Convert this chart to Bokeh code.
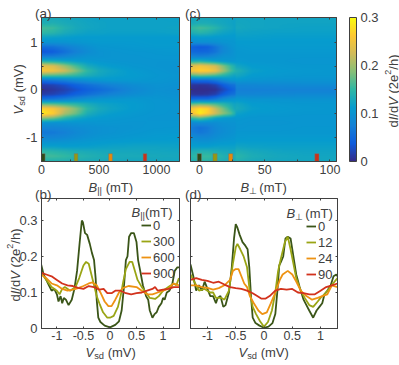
import numpy as np
from bokeh.plotting import figure
from bokeh.embed import file_html
from bokeh.resources import INLINE
from bokeh.layouts import column, row
from bokeh.models import (Label, LinearAxis, FixedTicker, LinearColorMapper, ColorBar,
                          Range1d, Legend, LegendItem)

# ---------- data ----------
vsd_rows = [1.5,1.4,1.3,1.2,1.1,1.0,.9,.8,.7,.6,.5,.4,.3,.2,.1,0,-.1,-.2,-.3,-.4,-.5,-.6,-.7,-.8,-.9,-1.0,-1.1,-1.2,-1.3,-1.4,-1.5]
b_par_cols = [0,100,200,300,400,500,600,800,1000,1200]
heat_par = [
[130,130,128,125,122,120,120,120,120,118],
[135,138,132,128,124,122,120,120,120,120],
[160,155,140,130,125,122,120,120,120,122],
[150,145,132,125,120,120,118,118,118,120],
[120,118,115,112,112,112,112,112,112,112],
[100,100,102,105,108,110,110,110,112,112],
[55,60,72,85,96,104,106,108,110,110],
[32,40,58,75,90,100,102,105,106,108],
[70,72,80,92,100,100,102,102,105,105],
[140,135,125,115,110,106,104,102,102,102],
[240,230,195,160,130,118,112,105,102,100],
[260,250,225,185,150,130,122,110,104,100],
[170,165,160,150,135,125,118,112,106,102],
[60,68,78,90,100,106,108,108,104,100],
[15,20,30,45,58,68,78,92,100,98],
[5,10,18,30,42,52,62,85,98,96],
[15,20,30,45,58,68,78,92,100,98],
[60,66,76,88,98,104,106,108,104,100],
[170,165,155,145,132,122,118,112,105,102],
[270,255,220,185,148,130,122,112,105,102],
[290,265,205,175,135,122,115,108,104,102],
[190,175,145,125,115,110,108,105,102,102],
[100,98,100,102,102,104,104,102,104,104],
[80,80,85,90,95,98,100,102,105,106],
[65,68,75,85,92,98,100,104,108,108],
[80,80,85,92,98,102,104,108,110,112],
[100,100,102,105,108,110,112,114,115,115],
[120,118,115,115,116,118,120,122,122,120],
[150,145,140,135,132,130,128,128,126,125],
[160,158,152,145,140,136,132,132,130,128],
[140,140,138,135,132,130,128,126,125,125]]
b_perp_cols = [-7,0,6,12,18,24,27,28,40,60,80,105]
heat_perp = [
[125,128,128,126,124,122,120,124,124,122,122,122],
[130,135,134,130,126,122,120,126,124,122,122,122],
[150,160,155,145,132,125,120,128,124,122,120,120],
[135,145,140,130,122,118,116,122,120,118,118,118],
[108,112,112,110,110,110,110,116,116,114,114,114],
[92,95,95,98,102,105,106,112,112,112,112,112],
[45,38,42,62,85,100,104,108,110,110,110,110],
[52,48,50,62,85,95,102,106,108,108,108,108],
[78,75,78,88,98,100,102,106,106,106,106,106],
[135,140,130,118,110,106,106,110,106,106,104,104],
[235,250,240,225,185,150,135,125,112,108,106,106],
[255,270,265,245,200,160,145,140,118,110,108,106],
[165,175,170,160,145,130,122,128,112,108,106,106],
[50,55,55,68,88,102,104,108,102,100,100,100],
[10,8,10,18,40,58,62,82,84,86,88,88],
[3,2,3,5,22,40,50,74,74,76,76,76],
[10,8,10,18,40,58,62,82,82,84,86,86],
[50,55,55,70,90,102,104,108,102,102,100,100],
[165,175,170,160,145,130,122,126,112,108,106,106],
[255,280,270,220,180,145,128,132,116,110,108,106],
[250,290,265,225,190,165,140,120,110,108,106,106],
[150,165,145,120,110,106,104,108,104,104,104,104],
[85,90,90,92,98,100,100,104,102,102,104,104],
[72,60,68,85,92,98,98,102,104,104,106,106],
[75,65,72,85,92,98,100,106,106,106,106,106],
[90,85,85,92,98,102,104,108,110,110,110,110],
[105,100,100,105,108,110,110,114,114,114,114,114],
[115,115,115,118,118,118,118,124,120,118,118,118],
[135,140,140,136,130,128,128,138,130,124,122,122],
[145,155,155,150,140,135,135,148,135,128,125,125],
[135,145,145,140,135,130,130,140,130,125,125,125]]

par_fields = [0,300,600,900]
perp_fields = [0,12,24,90]
par_marks = [15,300,600,900]
perp_marks = [0,12,24,90]

v_par_0 = [-1.3,-1.25,-1.2,-1.15,-1.1,-1.05,-1.0,-.97,-.93,-.9,-.87,-.83,-.78,-.72,-.67,-.62,-.57,-.53,-.51,-.47,-.43,-.38,-.34,-.3,-.27,-.25,-.22,-.18,-.1,0,.1,.17,.22,.26,.3,.33,.36,.4,.45,.5,.53,.57,.62,.68,.72,.75,.8,.84,.88,.92,.97,1.0,1.03,1.07,1.12,1.17,1.22,1.27,1.3]
g_par_0 = [.18,.15,.135,.12,.105,.11,.095,.075,.09,.07,.085,.08,.065,.08,.11,.16,.24,.30,.295,.265,.26,.235,.21,.19,.14,.08,.03,.018,.008,.003,.01,.02,.05,.11,.19,.2,.255,.265,.265,.24,.19,.16,.12,.09,.08,.05,.03,.04,.045,.06,.07,.085,.08,.1,.105,.12,.16,.17,.17]
v_par_300 = [-1.3,-1.2,-1.1,-1.0,-.95,-.9,-.85,-.75,-.65,-.58,-.5,-.45,-.4,-.35,-.3,-.25,-.2,-.13,-.05,0,.07,.15,.2,.25,.3,.37,.42,.47,.52,.6,.68,.75,.85,.92,1.0,1.1,1.2,1.25,1.3]
g_par_300 = [.155,.135,.115,.105,.095,.11,.115,.105,.115,.14,.175,.185,.18,.15,.12,.09,.07,.045,.03,.03,.035,.06,.09,.13,.165,.185,.185,.16,.135,.115,.1,.085,.082,.09,.105,.115,.125,.12,.14]
v_par_600 = [-1.3,-1.2,-1.1,-1.0,-.9,-.8,-.7,-.6,-.5,-.4,-.33,-.25,-.18,-.1,-.03,.03,.1,.17,.25,.35,.5,.6,.7,.8,.9,1.0,1.1,1.2,1.3]
g_par_600 = [.15,.14,.125,.12,.11,.105,.108,.112,.118,.125,.128,.12,.10,.075,.062,.062,.08,.1,.113,.118,.115,.105,.095,.095,.10,.105,.11,.125,.12]
v_par_900 = [-1.3,-1.2,-1.1,-1.0,-.9,-.8,-.7,-.6,-.5,-.4,-.3,-.2,-.12,-.05,.03,.1,.2,.3,.4,.5,.6,.7,.8,.85,.9,1.0,1.1,1.2,1.3]
g_par_900 = [.155,.15,.145,.135,.125,.12,.118,.113,.11,.118,.115,.108,.11,.098,.098,.105,.105,.098,.095,.098,.10,.105,.11,.115,.105,.108,.11,.115,.115]

v_perp_0 = [-1.3,-1.25,-1.2,-1.15,-1.1,-1.05,-1.0,-.95,-.9,-.85,-.82,-.77,-.72,-.68,-.62,-.57,-.53,-.5,-.47,-.43,-.38,-.33,-.29,-.26,-.23,-.2,-.15,-.08,0,.08,.15,.2,.24,.27,.3,.34,.38,.42,.47,.52,.57,.63,.7,.75,.8,.87,.93,.98,1.03,1.07,1.12,1.18,1.23,1.28,1.3]
g_perp_0 = [.178,.145,.105,.12,.105,.13,.11,.09,.09,.07,.085,.09,.06,.065,.10,.17,.25,.29,.28,.26,.24,.23,.22,.17,.09,.03,.015,.008,.002,.005,.015,.04,.11,.175,.185,.2,.25,.255,.25,.2,.15,.115,.08,.065,.05,.03,.05,.06,.07,.095,.105,.12,.145,.15,.145]
v_perp_12 = [-1.3,-1.2,-1.15,-1.05,-.95,-.9,-.85,-.75,-.7,-.62,-.55,-.5,-.47,-.42,-.36,-.3,-.25,-.2,-.14,-.07,0,.07,.14,.2,.25,.3,.37,.42,.47,.52,.57,.65,.72,.8,.87,.95,1.0,1.07,1.15,1.22,1.3]
g_perp_12 = [.15,.12,.105,.11,.10,.10,.085,.085,.08,.105,.18,.225,.235,.22,.20,.17,.10,.06,.04,.02,.005,.018,.05,.10,.16,.195,.24,.255,.22,.18,.14,.105,.085,.065,.06,.075,.085,.095,.11,.125,.14]
v_perp_24 = [-1.3,-1.2,-1.1,-1.0,-.9,-.8,-.7,-.6,-.55,-.5,-.45,-.4,-.35,-.3,-.25,-.18,-.1,-.03,.05,.12,.2,.28,.33,.42,.5,.57,.65,.75,.85,.95,1.03,1.12,1.2,1.3]
g_perp_24 = [.12,.12,.115,.113,.108,.112,.12,.135,.16,.165,.165,.145,.125,.115,.09,.07,.05,.04,.045,.07,.10,.135,.15,.16,.15,.13,.105,.09,.08,.085,.09,.095,.12,.115]
v_perp_90 = [-1.3,-1.2,-1.1,-1.0,-.9,-.8,-.7,-.6,-.5,-.4,-.3,-.2,-.12,-.05,.03,.1,.2,.3,.4,.5,.6,.7,.8,.9,1.0,1.1,1.2,1.3]
g_perp_90 = [.135,.14,.135,.132,.127,.13,.122,.115,.112,.11,.105,.098,.09,.083,.083,.09,.105,.11,.108,.11,.10,.098,.095,.095,.105,.115,.12,.125]

field_colors = ["#3a5518","#9aa515","#ee9212","#d2321c"]
mark_colors = ["#2f4a17","#98980f","#e68a0a","#c8321a"]
AX = "#404040"
FONT = "Liberation Sans"

# parula-like lookup table
lut_t = [0,.125,.25,.375,.5,.625,.75,.875,1]
lut_rgb = [(53,42,135),(15,92,221),(20,129,214),(6,156,206),(46,183,164),(135,191,119),(209,187,89),(254,200,50),(249,251,14)]
tt = np.linspace(0,1,256)
palette = ["#%02x%02x%02x" % tuple(int(round(np.interp(t,lut_t,[c[i] for c in lut_rgb]))) for i in range(3)) for t in tt]
mapper = LinearColorMapper(palette=palette, low=0, high=0.3)

WIDTHS = {'d':.556,'I':.278,'/':.278,'V':.667,' ':.278,'(':.333,')':.333,'2':.556,'e':.556,'h':.556,
          'B':.667,'s':.5,'m':.833,'T':.611,'|':.26,'⊥':.7}

# transparent sheet over the whole page: annotations are clipped to a frame, so the
# mixed-style labels (italic, sub- and superscripts) live on a frame as big as the page
sheet = figure(x_range=Range1d(0, 399), y_range=Range1d(365, 0), width=399, height=365, min_border=0,
               x_axis_type=None, y_axis_type=None, output_backend="svg", toolbar_location=None,
               outline_line_color=None, background_fill_color=None, border_fill_color=None,
               styles={"position": "absolute", "left": "0px", "top": "0px", "pointer-events": "none"})
sheet.grid.visible = False

def put(px, py, text, size=13.0, italic=False, angle=0.0):
    sheet.add_layout(Label(x=px, y=py, text=text, text_font=FONT, text_font_size=f"{size}px",
                           text_font_style="italic" if italic else "normal", text_color=AX,
                           text_align="left", text_baseline="alphabetic", angle=angle))

def runs(px, py, parts, size=13.0, vertical=False):
    # parts: text, italic, scale, shift below the baseline in em; leading blanks only advance
    pos = 0.0
    for text, italic, scale, shift in parts:
        s = size*scale
        lead = len(text) - len(text.lstrip(" "))
        pos += lead*WIDTHS[' ']*s
        body = text.lstrip(" ")
        if vertical:
            put(px+shift*size, py-pos, body, s, italic, np.pi/2)
        else:
            put(px+pos, py+shift*size, body, s, italic)
        pos += sum(WIDTHS.get(c,.55) for c in body)*s

def style(p, xt, xl, yt, yl, xs=12.0, ys=12.0, xstand=3, ystand=4):
    for ax, ticks, labels, fs, st in ((p.xaxis[0], xt, xl, xs, xstand), (p.yaxis[0], yt, yl, ys, ystand)):
        ax.ticker = FixedTicker(ticks=ticks)
        ax.major_label_overrides = dict(zip(ticks, labels))
        ax.major_label_text_font = FONT
        ax.major_label_text_font_size = f"{fs}px"
        ax.major_label_text_color = AX
        ax.major_label_standoff = st
        ax.major_tick_in, ax.major_tick_out = 2, 0
        ax.minor_tick_line_color = None
        ax.axis_line_color = AX
        ax.major_tick_line_color = AX
    for side, ticks in (("above", xt), ("right", yt)):
        a = LinearAxis(ticker=FixedTicker(ticks=ticks), major_label_overrides={t: "" for t in ticks},
                       major_tick_in=2, major_tick_out=0, minor_tick_line_color=None,
                       axis_line_color=AX, major_tick_line_color=AX,
                       major_label_standoff=0, major_label_text_font_size="1px")
        p.add_layout(a, side)
    p.grid.visible = False
    p.outline_line_color = AX
    p.background_fill_color = None
    p.border_fill_color = None

def fig(xr, yr, w, h, bl, br, bt, bb):
    return figure(x_range=Range1d(*xr), y_range=Range1d(*yr), frame_width=w, frame_height=h,
                  min_border_left=bl, min_border_right=br, min_border_top=bt, min_border_bottom=bb,
                  output_backend="svg", toolbar_location=None)

def heat(p, cols, values, xr, yr, nx, ny):
    vals = np.asarray(values, float)/1000.0
    rows = np.asarray(vsd_rows, float)[::-1]
    vals = vals[::-1]
    xs = np.linspace(xr[0], xr[1], nx)
    ys = np.linspace(yr[0], yr[1], ny)
    by_col = np.array([np.interp(ys, rows, vals[:, j]) for j in range(vals.shape[1])]).T
    arr = np.array([np.interp(xs, cols, r) for r in by_col])
    p.image(image=[arr], x=xr[0], y=yr[0], dw=xr[1]-xr[0], dh=yr[1]-yr[0], color_mapper=mapper)

def marks(p, fields, width, y0, y1):
    p.quad(left=[f-width/2 for f in fields], right=[f+width/2 for f in fields],
           bottom=[y0]*4, top=[y1]*4, fill_color=mark_colors, line_color="#777777", line_width=0.5)

YR = (-1.5, 1.52)
xr_a, xr_c = (0, 1200), (-6.8, 105)
xr_b, xr_d = (-1.29, 1.31), (-1.3, 1.3)
yr_b = (0, 0.361)

pa = fig(xr_a, YR, 138, 144, 41, 1, 17, 15)
pc = fig(xr_c, YR, 146, 144, 10, 62, 17, 15)
pb = fig(xr_b, yr_b, 138, 130, 41, 1, 22, 29)
pd = fig(xr_d, yr_b, 147, 130, 10, 61, 22, 29)

heat(pa, b_par_cols, heat_par, xr_a, YR, 138, 288)
heat(pc, b_perp_cols, heat_perp, xr_c, YR, 292, 288)
marks(pa, par_marks, 32, -1.5, -1.335)
marks(pc, perp_marks, 3.2, -1.5, -1.335)

style(pa, [0,250,500,750,1000], ["0","","500","","1000"], [-1,-.5,0,.5,1], ["-1","","0","","1"], 12.5, 13)
style(pc, [0,25,50,75,100], ["0","","50","","100"], [-1,-.5,0,.5,1], ["","","","",""], 12.5, 13)
vt, vl = [-1,-.5,0,.5,1], ["-1","-0.5","0","0.5","1"]
style(pb, vt, vl, [0,.1,.2,.3], ["0","0.1","0.2","0.3"], 12.5, 13, 2)
style(pd, vt, vl, [0,.1,.2,.3], ["","","",""], 12.5, 13, 2)

def curves(p, series, labels, lx, ly):
    items = []
    for (v, g), c, lab in zip(series, field_colors, labels):
        r = p.line(v, g, line_color=c, line_width=1.8)
        items.append(LegendItem(label=str(lab), renderers=[r]))
    leg = Legend(items=items, location=(lx, ly), background_fill_alpha=0, border_line_color=None,
                 glyph_width=10, glyph_height=16, label_height=16, label_width=10, spacing=0, margin=0, padding=0,
                 label_standoff=2, label_text_font=FONT, label_text_font_size="13px",
                 label_text_color=AX)
    p.add_layout(leg)

curves(pb, [(v_par_0,g_par_0),(v_par_300,g_par_300),(v_par_600,g_par_600),(v_par_900,g_par_900)], par_fields, 100, 47)
curves(pd, [(v_perp_0,g_perp_0),(v_perp_12,g_perp_12),(v_perp_24,g_perp_24),(v_perp_90,g_perp_90)], perp_fields, 116, 46)

cb = ColorBar(color_mapper=mapper, width=7, height=144, location=(13, 0), margin=0, padding=0,
              ticker=FixedTicker(ticks=[0,.1,.2,.3]), major_label_overrides={0:"0",.1:"0.1",.2:"0.2",.3:"0.3"},
              major_label_text_font=FONT, major_label_text_font_size="13px", major_label_text_color=AX,
              major_tick_line_color=None, minor_tick_line_color=None, bar_line_color=AX, label_standoff=4)
pc.add_layout(cb, "right")

put(34.5, 12.7, "(a)", 13.5)
put(184.5, 12.7, "(c)", 13.5)
put(34.5, 193.7, "(b)", 13.5)
put(184.5, 193.7, "(d)", 13.5)

V_MV = [("V",True,1,0),("sd",False,.72,.28),(" (mV)",False,1,0)]
runs(18, 114, V_MV, vertical=True)
runs(85, 351.7, V_MV)
runs(238, 351.7, V_MV)

B_PAR = [("B",True,1,0),("||",False,.72,.28),(" (mT)",False,1,0)]
B_PERP = [("B",True,1,0),("⊥",False,.72,.28),(" (mT)",False,1,0)]
runs(88, 187, B_PAR)
runs(240, 187, B_PERP)
runs(131, 211.7, [("B",True,1,0),("||",False,.72,.28),("(mT)",False,1,0)])
runs(286, 212.7, B_PERP)

DIDV = [("d",False,1,0),("I",True,1,0),("/d",False,1,0),("V",True,1,0),(" (2e",False,1,0),("2",False,.7,-.4),("/h)",False,1,0)]
runs(15, 301, DIDV, size=13, vertical=True)
runs(393, 127, DIDV, size=13, vertical=True)

layout = column(row(pa, pc, spacing=0), row(pb, pd, spacing=0), spacing=0)
open("out.html", "w").write(file_html([layout, sheet], INLINE))
